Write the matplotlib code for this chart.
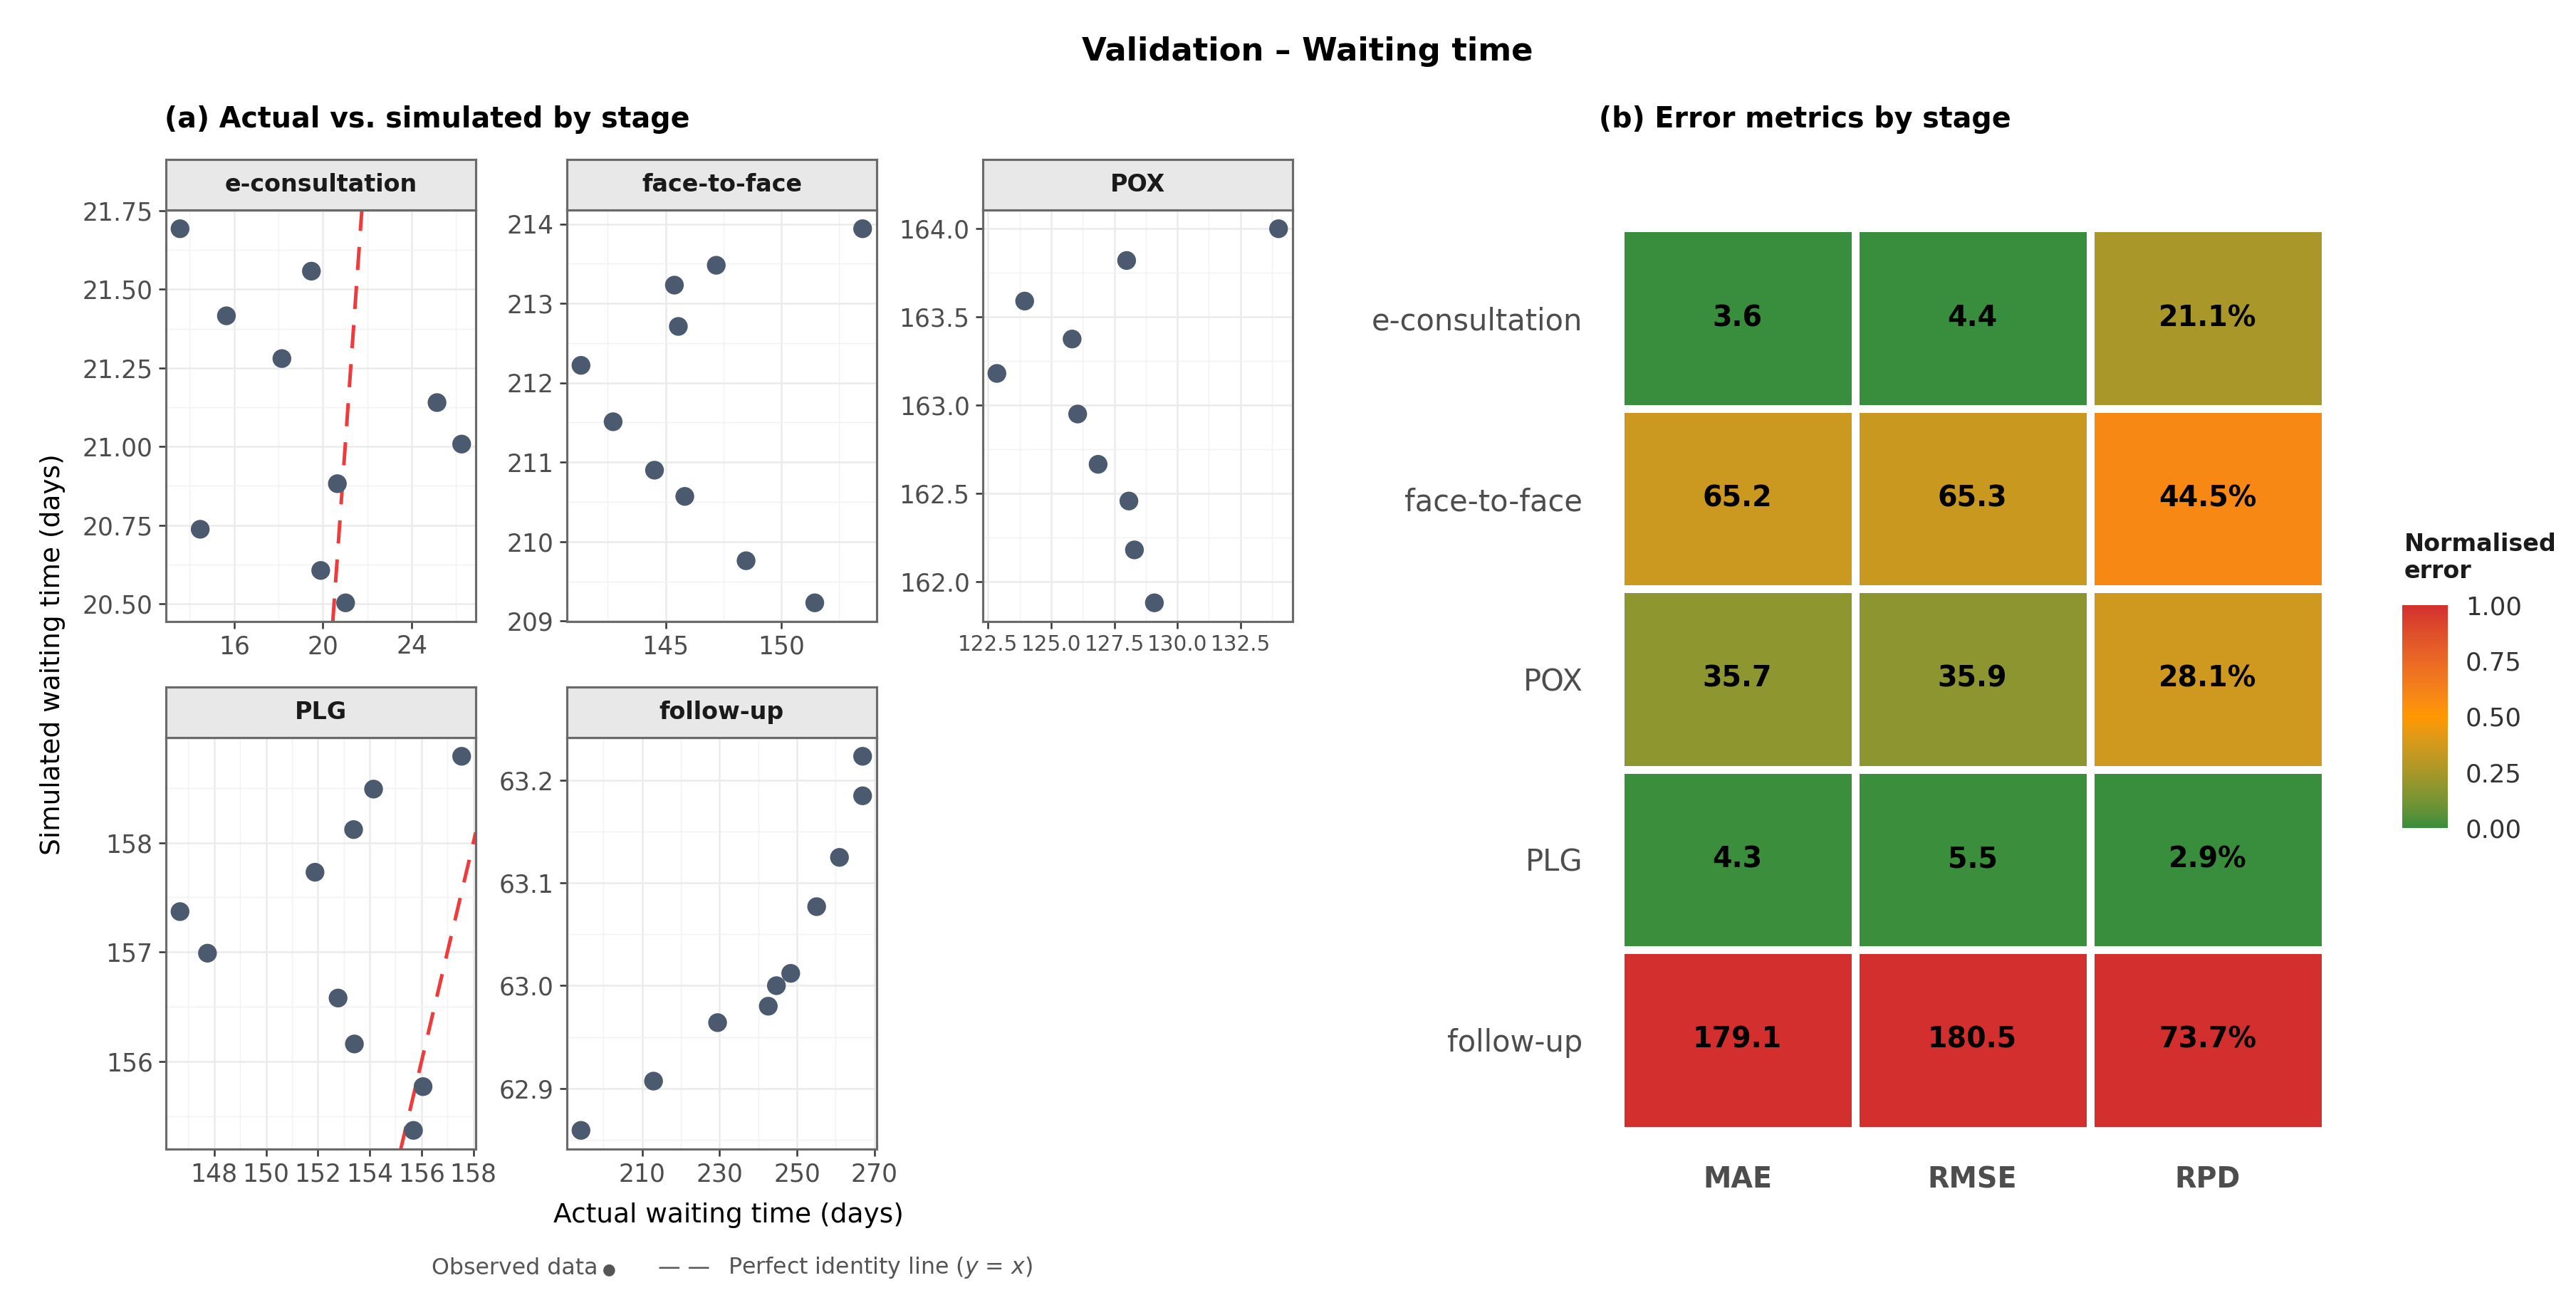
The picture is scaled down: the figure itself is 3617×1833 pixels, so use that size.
import numpy as np
import matplotlib
matplotlib.use("Agg")
import matplotlib.pyplot as plt
from matplotlib.colors import ListedColormap, Normalize
from matplotlib.ticker import FixedLocator, FormatStrFormatter, MultipleLocator

plt.rcParams['font.family'] = ['DejaVu Sans']
plt.rcParams['mathtext.fontset'] = 'dejavusans'

# ---------------- data ----------------
stages = ["e-consultation", "face-to-face", "POX", "PLG", "follow-up"]

econs_actual = [13.56, 19.48, 15.65, 18.15, 25.14, 26.25, 20.65, 14.47, 19.90, 21.02]
econs_sim = [21.693, 21.558, 21.416, 21.280, 21.140, 21.008, 20.882, 20.737, 20.606, 20.503]
f2f_actual = [153.52, 147.19, 145.38, 145.55, 141.34, 142.73, 144.52, 145.83, 148.48, 151.45]
f2f_sim = [213.94, 213.48, 213.23, 212.71, 212.22, 211.51, 210.90, 210.57, 209.76, 209.23]
pox_actual = [134.01, 127.99, 123.95, 125.83, 122.85, 126.05, 126.86, 128.08, 128.30, 129.09]
pox_sim = [164.00, 163.82, 163.59, 163.375, 163.18, 162.95, 162.665, 162.457, 162.18, 161.88]
plg_actual = [157.55, 154.15, 153.38, 151.89, 146.68, 147.74, 152.78, 153.41, 156.06, 155.69]
plg_sim = [158.79, 158.49, 158.12, 157.73, 157.37, 156.99, 156.58, 156.16, 155.77, 155.37]
fu_actual = [266.98, 266.98, 261.0, 255.1, 248.4, 244.7, 242.6, 229.5, 212.95, 194.2]
fu_sim = [63.2235, 63.185, 63.125, 63.077, 63.012, 63.000, 62.980, 62.964, 62.907, 62.859]

econs_xticks = [16, 20, 24]
econs_yticks = [20.50, 20.75, 21.00, 21.25, 21.50, 21.75]
f2f_xticks = [145, 150]
f2f_yticks = [209, 210, 211, 212, 213, 214]
pox_xticks = [122.5, 125.0, 127.5, 130.0, 132.5]
pox_yticks = [162.0, 162.5, 163.0, 163.5, 164.0]
plg_xticks = [148, 150, 152, 154, 156, 158]
plg_yticks = [156, 157, 158]
fu_xticks = [210, 230, 250, 270]
fu_yticks = [62.9, 63.0, 63.1, 63.2]

metrics = ["MAE", "RMSE", "RPD"]
mae = [3.6, 65.2, 35.7, 4.3, 179.1]
rmse = [4.4, 65.3, 35.9, 5.5, 180.5]
rpd = [21.1, 44.5, 28.1, 2.9, 73.7]

cbar_ticks = [0.00, 0.25, 0.50, 0.75, 1.00]

# ---------------- helpers ----------------
W, H = 3617, 1833
DPI = 300
fig = plt.figure(figsize=(W / DPI, H / DPI), dpi=DPI)


def rect(x0, ytop, w, h):
    return [x0 / W, 1 - (ytop + h) / H, w / W, h / H]


def ftext(x, y, s, **kw):
    return fig.text(x / W, 1 - y / H, s, **kw)


def hex2rgb(h):
    h = h.lstrip('#')
    return np.array([int(h[i:i + 2], 16) / 255 for i in (0, 2, 4)])


def srgb2lab(c):
    c = np.where(c <= 0.04045, c / 12.92, ((c + 0.055) / 1.055) ** 2.4)
    M = np.array([[0.4124, 0.3576, 0.1805], [0.2126, 0.7152, 0.0722], [0.0193, 0.1192, 0.9505]])
    xyz = M @ c / np.array([0.95047, 1.0, 1.08883])
    f = np.where(xyz > 0.008856, np.cbrt(xyz), 7.787 * xyz + 16 / 116)
    return np.array([116 * f[1] - 16, 500 * (f[0] - f[1]), 200 * (f[1] - f[2])])


def lab2srgb(lab):
    L, a, b = lab
    fy = (L + 16) / 116
    fx = fy + a / 500
    fz = fy - b / 200
    f = np.array([fx, fy, fz])
    xyz = np.where(f ** 3 > 0.008856, f ** 3, (f - 16 / 116) / 7.787) * np.array([0.95047, 1.0, 1.08883])
    Minv = np.array([[3.2406, -1.5372, -0.4986], [-0.9689, 1.8758, 0.0415], [0.0557, -0.2040, 1.0570]])
    c = Minv @ xyz
    c = np.where(c <= 0.0031308, 12.92 * c, 1.055 * np.clip(c, 0, None) ** (1 / 2.4) - 0.055)
    return np.clip(c, 0, 1)


stops = [(0.0, '#388E3C'), (0.5, '#FF9800'), (1.0, '#D32F2F')]
labs = [srgb2lab(hex2rgb(c)) for _, c in stops]
cols = []
for t in np.linspace(0, 1, 256):
    if t <= 0.5:
        u = t / 0.5
        lab = labs[0] * (1 - u) + labs[1] * u
    else:
        u = (t - 0.5) / 0.5
        lab = labs[1] * (1 - u) + labs[2] * u
    cols.append(lab2srgb(lab))
cmap = ListedColormap(cols)

# ---------------- scatter panels ----------------
panel_cols_x = [233, 796, 1380]
pw = 435
row_tops = [295, 1036]
ph = 578
strip_h = 71

panels = [
    ("e-consultation", econs_actual, econs_sim, econs_xticks, econs_yticks, '%g', '%.2f', 0, 0),
    ("face-to-face", f2f_actual, f2f_sim, f2f_xticks, f2f_yticks, '%g', '%g', 0, 1),
    ("POX", pox_actual, pox_sim, pox_xticks, pox_yticks, '%.1f', '%.1f', 0, 2),
    ("PLG", plg_actual, plg_sim, plg_xticks, plg_yticks, '%g', '%g', 1, 0),
    ("follow-up", fu_actual, fu_sim, fu_xticks, fu_yticks, '%g', '%.1f', 1, 1),
]

border_col = '#6A6A6A'
for name, xa, ys, xt, yt, xf, yf, r, c in panels:
    x0 = panel_cols_x[c]
    ax = fig.add_axes(rect(x0, row_tops[r], pw, ph))
    xlo, xhi = min(xa), max(xa)
    ylo, yhi = min(ys), max(ys)
    xr, yr = xhi - xlo, yhi - ylo
    ax.set_xlim(xlo - 0.05 * xr, xhi + 0.05 * xr)
    ax.set_ylim(ylo - 0.05 * yr, yhi + 0.05 * yr)
    ax.xaxis.set_major_locator(FixedLocator(xt))
    ax.yaxis.set_major_locator(FixedLocator(yt))
    ax.xaxis.set_major_formatter(FormatStrFormatter(xf))
    ax.yaxis.set_major_formatter(FormatStrFormatter(yf))
    ax.xaxis.set_minor_locator(MultipleLocator((xt[1] - xt[0]) / 2))
    ax.yaxis.set_minor_locator(MultipleLocator((yt[1] - yt[0]) / 2))
    ax.grid(which='major', color='#EBEBEB', linewidth=0.6, zorder=0)
    ax.grid(which='minor', color='#F2F2F2', linewidth=0.35, zorder=0)
    ax.set_axisbelow(True)
    ax.tick_params(which='major', length=2.4, width=0.6, color='#333333',
                   labelsize=8.3, labelcolor='#4D4D4D', pad=2.0)
    ax.tick_params(which='minor', length=0)
    if name == "POX":
        ax.tick_params(axis='x', labelsize=7.1)
    for sp in ax.spines.values():
        sp.set_color(border_col)
        sp.set_linewidth(0.75)
    ax.axline((xlo, xlo), slope=1, color='#EE3B3B', linewidth=1.2,
              dashes=(6.5, 4.5), zorder=2)
    ax.scatter(xa, ys, s=40, color='#4B5A6E', edgecolors='none', zorder=3)
    # strip
    sax = fig.add_axes(rect(x0, row_tops[r] - strip_h, pw, strip_h))
    sax.set_facecolor('#E8E8E8')
    sax.set_xticks([])
    sax.set_yticks([])
    for sp in sax.spines.values():
        sp.set_color(border_col)
        sp.set_linewidth(0.75)
    sax.text(0.5, 0.5, name, transform=sax.transAxes, ha='center', va='center',
             fontsize=8, fontweight='bold', color='#1A1A1A')

# ---------------- heatmap ----------------
vals = np.array([mae, rmse, rpd]).T  # rows = stages, cols = metrics
norm_cols = []
for j in range(vals.shape[1]):
    col = vals[:, j]
    norm_cols.append((col - col.min()) / (col.max() - col.min()))
normed = np.array(norm_cols).T

hax = fig.add_axes(rect(2274.5, 320.5, 990, 1267))
nr, nc = normed.shape
hax.pcolormesh(np.arange(nc + 1), np.arange(nr + 1), normed[::-1], cmap=cmap,
               vmin=0, vmax=1, edgecolors='white', linewidth=2.2)
hax.set_xlim(0, nc)
hax.set_ylim(0, nr)
for i in range(nr):
    for j in range(nc):
        v = vals[i, j]
        s = f"{v:.1f}%" if metrics[j] == "RPD" else f"{v:.1f}"
        hax.text(j + 0.5, nr - 1 - i + 0.5, s, ha='center', va='center',
                 fontsize=9.5, fontweight='bold', color='black')
hax.set_xticks(np.arange(nc) + 0.5)
hax.set_xticklabels(metrics, fontsize=9.5, fontweight='bold', color='#4D4D4D')
hax.set_yticks(np.arange(nr) + 0.5)
hax.set_yticklabels(stages[::-1], fontsize=10, color='#4D4D4D')
hax.tick_params(length=0)
hax.tick_params(axis='y', pad=12.5)
hax.tick_params(axis='x', pad=12)
for sp in hax.spines.values():
    sp.set_visible(False)

# colorbar
cax = fig.add_axes(rect(3373, 850, 64, 313))
sm = plt.cm.ScalarMappable(norm=Normalize(0, 1), cmap=cmap)
cb = fig.colorbar(sm, cax=cax, ticks=cbar_ticks)
cb.outline.set_visible(False)
cb.ax.set_yticklabels([f"{t:.2f}" for t in cbar_ticks])
cb.ax.tick_params(length=0, labelsize=8.5, labelcolor='#333333', pad=6)
ftext(3376, 748, "Normalised\nerror", ha='left', va='top', fontsize=8,
      fontweight='bold', color='#1A1A1A', linespacing=1.2)

# ---------------- titles & labels ----------------
ftext(1836, 72, "Validation – Waiting time", ha='center', va='center',
      fontsize=10.8, fontweight='bold', color='black')
ftext(231, 168, "(a) Actual vs. simulated by stage", ha='left', va='center',
      fontsize=9.5, fontweight='bold', color='black')
ftext(2245, 168, "(b) Error metrics by stage", ha='left', va='center',
      fontsize=9.5, fontweight='bold', color='black')
ftext(74, 919.5, "Simulated waiting time (days)", rotation=90, ha='center',
      va='center', fontsize=9, color='black')
ftext(1023, 1707, "Actual waiting time (days)", ha='center', va='center',
      fontsize=9, color='black')

cap_col = '#555555'
ftext(840, 1781, "Observed data", ha='right', va='center', fontsize=7.6, color=cap_col)
ftext(855, 1783, "●", ha='center', va='center', fontsize=5.2, color=cap_col)
ftext(960, 1781, "— —", ha='center', va='center', fontsize=7.6, color=cap_col)
ftext(1022, 1781, r"Perfect identity line ($\mathit{y}$ = $\mathit{x}$)", ha='left',
      va='center', fontsize=7.6, color=cap_col)

fig.savefig("out.png", dpi=DPI, facecolor='white')
